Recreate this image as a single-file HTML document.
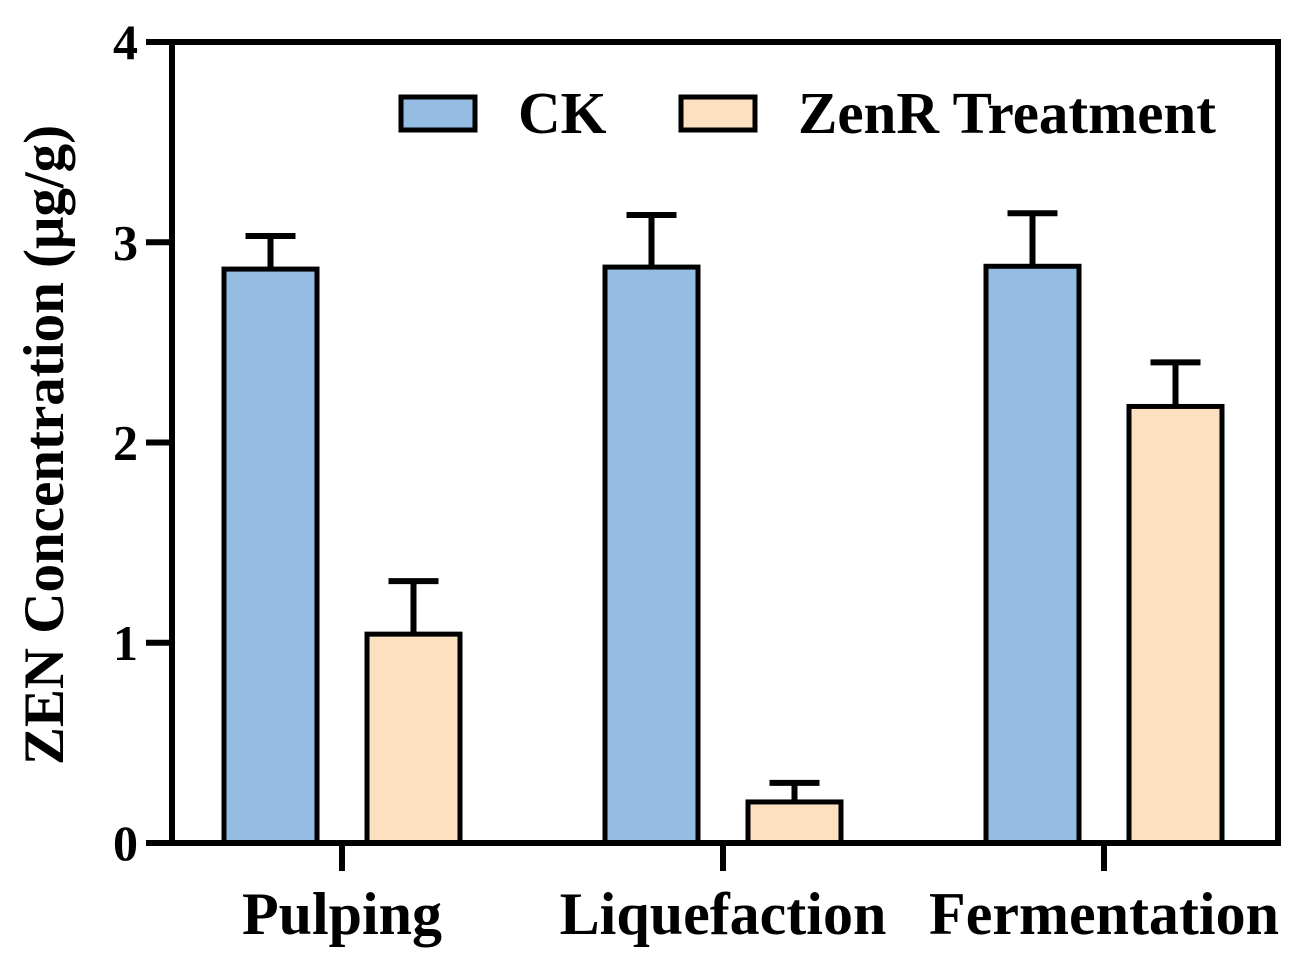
<!DOCTYPE html>
<html><head><meta charset="utf-8"><style>
html,body{margin:0;padding:0;background:#fff;}
svg text{font-family:"Liberation Serif",serif;font-weight:bold;fill:#000;}
</style></head><body>
<svg id="chart" width="1296" height="961" xmlns="http://www.w3.org/2000/svg">
<g id="marks"></g>
<g id="axes"></g>
<text transform="translate(63,445) rotate(-90)" text-anchor="middle" font-size="57">ZEN Concentration (μg/g)</text>
<g>
<rect x="401" y="97" width="74" height="33" fill="#95bde4" stroke="#000" stroke-width="5"/>
<text x="518" y="133" font-size="59">CK</text>
<rect x="681" y="97" width="74" height="33" fill="#fde0c0" stroke="#000" stroke-width="5"/>
<text x="798" y="133" font-size="59">ZenR Treatment</text>
</g>
</svg>
<script>
const categories=["Pulping","Liquefaction","Fermentation"];
const ckValues=[2.866,2.876,2.88];
const ckErrors=[0.165,0.26,0.265];
const zenrValues=[1.043,0.205,2.18];
const zenrErrors=[0.265,0.095,0.22];
const yTicks=[0,1,2,3,4];
const NS="http://www.w3.org/2000/svg";
const x0=172,x1=1278,yBase=843,yTop=42;
const y=v=>yBase-(v/4)*(yBase-yTop);
const xc=i=>342+i*381;
const bw=93,off=71.5;
const marks=document.getElementById('marks'),axes=document.getElementById('axes');
function mk(tag,attrs,parent){const e=document.createElementNS(NS,tag);for(const k in attrs)e.setAttribute(k,attrs[k]);parent.appendChild(e);return e;}
function bar(cx,v,err,fill,name){
  const top=y(v),et=y(v+err);
  const l=mk('line',{x1:cx,x2:cx,y1:top,y2:et,stroke:'#000','stroke-width':6},marks);
  
  
  const c=mk('line',{x1:cx-25,x2:cx+25,y1:et,y2:et,stroke:'#000','stroke-width':6},marks);
  
  
  const r=mk('rect',{x:cx-bw/2,y:top,width:bw,height:yBase-top,fill:fill,stroke:'#000','stroke-width':5},marks);
  
  
}
categories.forEach((c,i)=>{
  bar(xc(i)-off,ckValues[i],ckErrors[i],'#95bde4','bar-ck-'+c.toLowerCase());
  bar(xc(i)+off,zenrValues[i],zenrErrors[i],'#fde0c0','bar-zenr-'+c.toLowerCase());
  const t=mk('line',{x1:xc(i),x2:xc(i),y1:yBase,y2:yBase+28,stroke:'#000','stroke-width':6},axes);
  
  
  const lb=mk('text',{x:xc(i),y:934,'text-anchor':'middle','font-size':60},axes);
  lb.textContent=c;
  
  
});
yTicks.forEach(v=>{
  const t=mk('line',{x1:146,x2:x0,y1:y(v),y2:y(v),stroke:'#000','stroke-width':6},axes);
  
  
  const lb=mk('text',{x:138,y:y(v)+17,'text-anchor':'end','font-size':50},axes);
  lb.textContent=v;
  
  
});
const frame=mk('rect',{x:x0,y:yTop,width:x1-x0,height:yBase-yTop,fill:'none',stroke:'#000','stroke-width':6},axes);


</script>
</body></html>
